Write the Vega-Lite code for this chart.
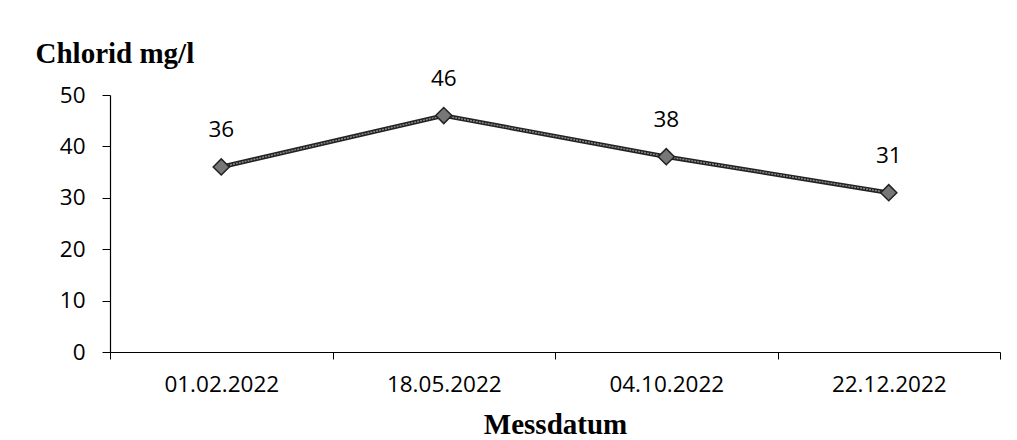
{
  "$schema": "https://vega.github.io/schema/vega-lite/v6.json",
  "autosize": {"type": "none"},
  "padding": {"left": 110, "top": 95, "right": 17, "bottom": 88},
  "width": 890,
  "height": 257,
  "background": "white",
  "config": {
    "view": {"stroke": null},
    "axis": {"grid": false, "domainColor": "black", "tickColor": "black", "labelColor": "black", "titleColor": "black", "labelFont": "Open Sans", "labelFontSize": 22.5, "titleFont": "Liberation Serif", "titleFontSize": 29, "titleFontWeight": "bold"}
  },
  "data": {"values": [
    {"datum": "01.02.2022", "chlorid": 36},
    {"datum": "18.05.2022", "chlorid": 46},
    {"datum": "04.10.2022", "chlorid": 38},
    {"datum": "22.12.2022", "chlorid": 31}
  ]},
  "encoding": {
    "x": {"field": "datum", "type": "nominal", "sort": null,
      "scale": {"paddingInner": 0, "paddingOuter": 0},
      "axis": {"title": "Messdatum", "labelAngle": 0, "tickBand": "extent", "tickSize": 7, "labelPadding": 14, "labelBaseline": "top", "titleY": 81, "titleBaseline": "alphabetic", "titlePadding": 0, "domainWidth": 1.2}},
    "y": {"field": "chlorid", "type": "quantitative",
      "scale": {"domain": [0, 50]},
      "axis": {"title": "Chlorid mg/l", "values": [0, 10, 20, 30, 40, 50], "tickSize": 8, "labelPadding": 17, "titleAngle": 0, "titleAlign": "left", "titleBaseline": "alphabetic", "titleX": -75, "titleY": -33, "domainWidth": 1.2}}
  },
  "layer": [
    {"mark": {"type": "line", "color": "#222222", "strokeWidth": 4.5}},
    {"mark": {"type": "line", "color": "#8a8a8a", "strokeWidth": 1.5, "strokeDash": [2, 1]}},
    {"mark": {"type": "point", "shape": "diamond", "size": 260, "filled": true, "fill": "#777777", "stroke": "#222222", "strokeWidth": 1.5, "opacity": 1}},
    {"mark": {"type": "text", "font": "Open Sans", "fontSize": 22.5, "color": "black", "baseline": "alphabetic", "dy": -30},
     "encoding": {"text": {"field": "chlorid", "type": "quantitative"}}}
  ]
}
